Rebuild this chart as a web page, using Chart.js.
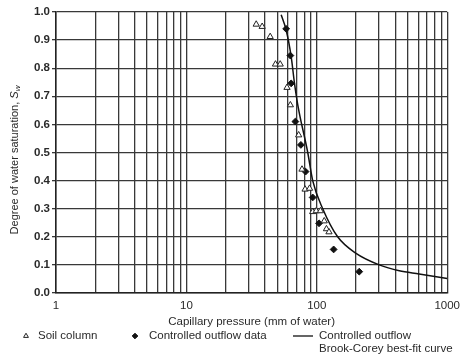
<!DOCTYPE html>
<html>
<head>
<meta charset="utf-8">
<script src="https://cdn.jsdelivr.net/npm/chart.js@4.4.0/dist/chart.umd.min.js"></script>
<style>
  html, body { margin: 0; padding: 0; background: #fff; }
  #wrap { width: 466px; height: 364px; }
</style>
</head>
<body>
<div id="wrap"><canvas id="chart" width="466" height="364"></canvas></div>
<script>
// capillary pressure (mm of water) -> degree of water saturation
const soilColumnP = [34.3, 38.1, 43.9, 48.2, 52.4, 59.1, 62.7, 72.6, 77.0, 81.3, 88.0, 93.0, 99.0, 106.6, 114, 118.6, 124];
const soilColumnS = [0.956, 0.948, 0.912, 0.814, 0.814, 0.731, 0.669, 0.562, 0.44, 0.369, 0.372, 0.289, 0.292, 0.292, 0.256, 0.228, 0.217];

const outflowP = [58.2, 62.7, 63.6, 68.5, 75.5, 82.0, 93.0, 104, 134.6, 211.6];
const outflowS = [0.94, 0.845, 0.746, 0.61, 0.527, 0.432, 0.34, 0.248, 0.155, 0.076];

const curveP = [53.3, 58.2, 63.6, 67.4, 71.5, 85.2, 93, 111, 144.5, 200, 301, 429, 609, 1000];
const curveS = [0.99, 0.936, 0.841, 0.747, 0.669, 0.5, 0.4, 0.3, 0.2, 0.141, 0.1, 0.079, 0.068, 0.052];

const xGridValues = [1, 2, 3, 4, 5, 6, 7, 8, 9, 10, 20, 30, 40, 50, 60, 70, 80, 90, 100, 200, 300, 400, 500, 600, 700, 800, 900, 1000];
const xTickLabels = [1, 10, 100, 1000];

const seriesNames = ['Soil column', 'Controlled outflow data', ['Controlled outflow', 'Brook-Corey best-fit curve']];
const xTitle = 'Capillary pressure (mm of water)';
const yTitle = 'Degree of water saturation, ';

const fontFamily = '"Liberation Sans", Arial, sans-serif';
const textColor = '#2a2a2a';

function toPoints(xs, ys) {
    return xs.map((x, i) => ({ x: x, y: ys[i] }));
}

// y title with subscript and the legend below the axis
const extraText = {
    id: 'extraText',
    afterDraw(chart) {
        const ctx = chart.ctx;
        ctx.save();
        ctx.fillStyle = textColor;
        ctx.textBaseline = 'middle';

        // rotated y-axis title
        ctx.save();
        ctx.translate(15, 160);
        ctx.rotate(-Math.PI / 2);
        ctx.font = '11px ' + fontFamily;
        const w1 = ctx.measureText(yTitle).width;
        ctx.font = 'italic 11px ' + fontFamily;
        const w2 = ctx.measureText('S').width;
        ctx.font = 'italic 8px ' + fontFamily;
        const w3 = ctx.measureText('w').width;
        let x0 = -(w1 + w2 + w3) / 2;
        ctx.textAlign = 'left';
        ctx.font = '11px ' + fontFamily;
        ctx.fillText(yTitle, x0, 0);
        ctx.font = 'italic 11px ' + fontFamily;
        ctx.fillText('S', x0 + w1, 0);
        ctx.font = 'italic 8px ' + fontFamily;
        ctx.fillText('w', x0 + w1 + w2, 3);
        ctx.restore();

        // legend
        const ds = chart.data.datasets;
        const rowY = 336;
        const items = [
            { sym: 26, text: 38 },
            { sym: 135, text: 149 },
            { sym: 303, text: 319 }
        ];
        ctx.font = '11.5px ' + fontFamily;
        ctx.textAlign = 'left';
        ds.forEach((d, i) => {
            const it = items[i];
            if (d.showLine) {
                ctx.strokeStyle = d.borderColor;
                ctx.lineWidth = 1.3;
                ctx.beginPath();
                ctx.moveTo(it.sym - 10, rowY);
                ctx.lineTo(it.sym + 10, rowY);
                ctx.stroke();
            } else {
                ctx.fillStyle = d.backgroundColor;
                ctx.strokeStyle = d.borderColor;
                ctx.lineWidth = d.borderWidth;
                Chart.helpers.drawPoint(ctx, {
                    pointStyle: d.pointStyle,
                    radius: 2.8,
                    borderWidth: d.borderWidth,
                    rotation: 0
                }, it.sym, rowY);
            }
            ctx.fillStyle = textColor;
            const lines = Array.isArray(d.label) ? d.label : [d.label];
            lines.forEach((t, k) => ctx.fillText(t, it.text, rowY + k * 13));
        });
        ctx.restore();
    }
};

const chart = new Chart(
    document.getElementById('chart'),
    {
        type: 'scatter',
        data: {
            datasets: [
                {
                    label: seriesNames[0],
                    data: toPoints(soilColumnP, soilColumnS),
                    pointStyle: 'triangle',
                    pointRadius: 3.6,
                    backgroundColor: '#ffffff',
                    borderColor: '#222222',
                    borderWidth: 1
                },
                {
                    label: seriesNames[1],
                    data: toPoints(outflowP, outflowS),
                    pointStyle: 'rectRot',
                    pointRadius: 3.4,
                    backgroundColor: '#111111',
                    borderColor: '#111111',
                    borderWidth: 1
                },
                {
                    label: seriesNames[2],
                    data: toPoints(curveP, curveS),
                    showLine: true,
                    pointRadius: 0,
                    borderColor: '#111111',
                    backgroundColor: '#111111',
                    borderWidth: 1.5,
                    cubicInterpolationMode: 'monotone'
                }
            ]
        },
        options: {
            responsive: false,
            animation: false,
            layout: {
                padding: { left: 0, top: 12, right: 18, bottom: 0 }
            },
            plugins: {
                legend: { display: false },
                tooltip: { enabled: false }
            },
            scales: {
                x: {
                    type: 'logarithmic',
                    min: 1,
                    max: 1000,
                    afterBuildTicks: (scale) => {
                        scale.ticks = xGridValues.map(v => ({ value: v }));
                    },
                    afterFit: (scale) => {
                        scale.height = 71;
                    },
                    grid: {
                        color: '#383838',
                        lineWidth: 1.3,
                        drawTicks: false
                    },
                    border: { display: true, color: '#222222', width: 1.5 },
                    ticks: {
                        autoSkip: false,
                        maxRotation: 0,
                        padding: 6,
                        color: textColor,
                        font: { family: fontFamily, size: 11.5 },
                        callback: (value) => xTickLabels.includes(value) ? String(value) : ''
                    },
                    title: {
                        display: true,
                        text: xTitle,
                        color: textColor,
                        font: { family: fontFamily, size: 11.5 },
                        padding: { top: 0, bottom: 35 }
                    }
                },
                y: {
                    min: 0,
                    max: 1,
                    afterFit: (scale) => {
                        scale.width = 56;
                    },
                    grid: {
                        color: '#383838',
                        lineWidth: 1.3,
                        tickLength: 4
                    },
                    border: { display: true, color: '#222222', width: 1.5 },
                    ticks: {
                        stepSize: 0.1,
                        padding: 2,
                        color: textColor,
                        font: { family: fontFamily, size: 11.5, weight: 'bold' },
                        callback: (value) => value.toFixed(1)
                    }
                }
            }
        },
        plugins: [extraText]
    }
);
</script>
</body>
</html>
